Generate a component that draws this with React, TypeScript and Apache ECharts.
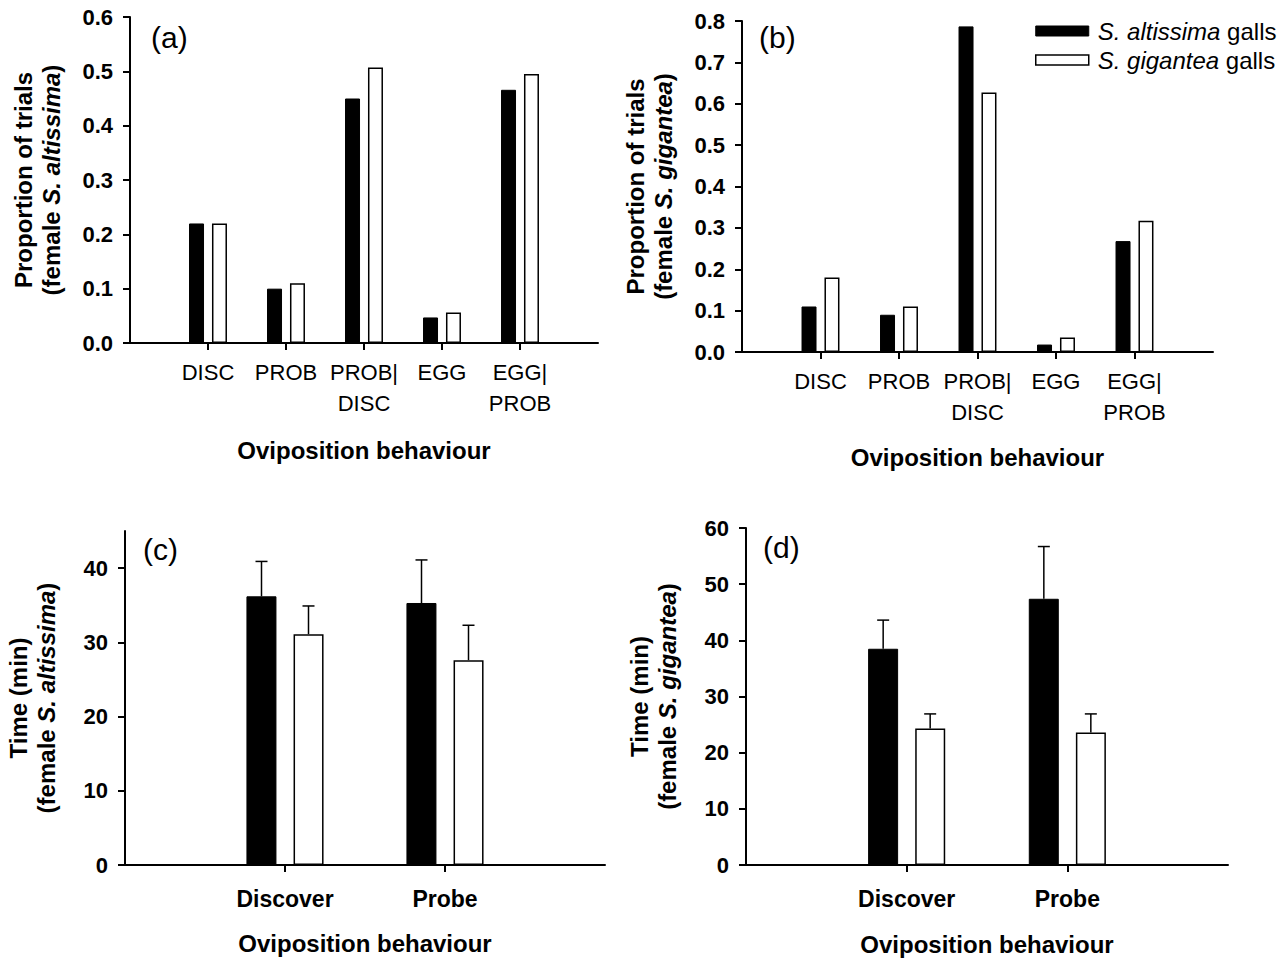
import React, { useEffect, useRef } from 'react';
import * as echarts from 'echarts';

// ---------- data ----------
const propCategories = ['DISC', 'PROB', 'PROB|\nDISC', 'EGG', 'EGG|\nPROB'];
const timeCategories = ['Discover', 'Probe'];

// (a) female S. altissima, proportion of trials
const aAltissima = [0.22, 0.10, 0.45, 0.047, 0.466];
const aGigantea = [0.22, 0.11, 0.507, 0.056, 0.495];
// (b) female S. gigantea, proportion of trials
const bAltissima = [0.11, 0.09, 0.787, 0.018, 0.268];
const bGigantea = [0.18, 0.11, 0.627, 0.035, 0.317];
// (c) female S. altissima, time (min) mean and SE
const cAltissima = [36.2, 35.3];
const cAltissimaErr = [4.7, 5.8];
const cGigantea = [31.1, 27.6];
const cGiganteaErr = [3.8, 4.7];
// (d) female S. gigantea, time (min) mean and SE
const dAltissima = [38.5, 47.4];
const dAltissimaErr = [5.1, 9.3];
const dGigantea = [24.3, 23.6];
const dGiganteaErr = [2.6, 3.3];

const cTicks = [0, 10, 20, 30, 40];

const SER1 = 'S. altissima galls';
const SER2 = 'S. gigantea galls';

const FONT = '"Liberation Sans", Arial, Helvetica, sans-serif';

const pad = (arr: any[], fill: any) => [fill, ...arr, fill];

function App() {
  const ref = useRef<HTMLDivElement>(null);

  useEffect(() => {
    if (!ref.current) return;
    const chart = echarts.init(ref.current, undefined, { renderer: 'svg' });

    const grids = [
      { left: 130, top: 17, width: 468, height: 326 },
      { left: 742, top: 21, width: 471, height: 331 },
      { left: 125, top: 531, width: 480, height: 334 },
      { left: 746, top: 528, width: 482, height: 338 },
    ];

    const axisLine = { show: true, onZero: false, lineStyle: { color: '#000', width: 2 } };
    const axisTick = { show: true, length: 7, lineStyle: { color: '#000', width: 2 } };

    const mkX = (gi: number, cats: string[], bold: boolean, labelSize: number, labelMargin: number, nameSize: number, nameGap: number) => ({
      type: 'category',
      gridIndex: gi,
      data: pad(cats, ''),
      boundaryGap: false,
      axisLine,
      axisTick: { ...axisTick, interval: (i: number) => i > 0 && i < cats.length + 1 },
      axisLabel: {
        interval: 0,
        margin: labelMargin,
        color: '#000',
        fontFamily: FONT,
        fontSize: labelSize,
        fontWeight: bold ? 'bold' : 'normal',
        lineHeight: 31,
      },
      splitLine: { show: false },
      name: 'Oviposition behaviour',
      nameLocation: 'middle',
      nameGap,
      nameTextStyle: { color: '#000', fontFamily: FONT, fontSize: nameSize, fontWeight: 'bold', lineHeight: 28 },
    });

    const yNameStyle = {
      color: '#000',
      fontFamily: FONT,
      fontSize: 24,
      fontWeight: 'bold',
      lineHeight: 28,
      rich: {
        n: { fontFamily: FONT, fontSize: 24, fontWeight: 'bold', lineHeight: 28, color: '#000' },
        i: { fontFamily: FONT, fontSize: 24, fontWeight: 'bold', fontStyle: 'italic', lineHeight: 28, color: '#000' },
      },
    };

    const mkY = (gi: number, max: number, interval: number, decimals: number, name: string, extra: any = {}) => ({
      type: 'value',
      gridIndex: gi,
      min: 0,
      max,
      interval,
      axisLine,
      axisTick: { ...axisTick, ...(extra.tickValues ? { customValues: extra.tickValues } : {}) },
      axisLabel: {
        margin: 17,
        color: '#000',
        fontFamily: FONT,
        fontSize: 22,
        fontWeight: 'bold',
        formatter: (v: number) => v.toFixed(decimals),
        ...(extra.tickValues ? { customValues: extra.tickValues } : {}),
      },
      splitLine: { show: false },
      name,
      nameLocation: 'middle',
      nameGap: 65,
      nameTextStyle: yNameStyle,
    });

    const blackStyle = { color: '#000', borderColor: '#000', borderWidth: 1 };
    const whiteStyle = { color: '#fff', borderColor: '#000', borderWidth: 1.5 };

    const bar = (gi: number, name: string, vals: number[], style: any, w: number, gap: string) => ({
      type: 'bar',
      name,
      xAxisIndex: gi,
      yAxisIndex: gi,
      data: pad(vals, '-'),
      barWidth: w,
      barGap: gap,
      itemStyle: style,
      z: 3,
    });

    const errSeries = (gi: number, means: number[], errs: number[], offset: number) => ({
      type: 'custom',
      name: 'err' + gi + '_' + offset,
      xAxisIndex: gi,
      yAxisIndex: gi,
      encode: { x: 0, y: [1, 2] },
      data: means.map((m, i) => [i + 1, m, m + errs[i]]),
      z: 2,
      renderItem: (params: any, api: any) => {
        const base = api.coord([api.value(0), api.value(1)]);
        const top = api.coord([api.value(0), api.value(2)]);
        const x = base[0] + offset;
        return {
          type: 'group',
          children: [
            { type: 'line', shape: { x1: x, y1: base[1], x2: x, y2: top[1] }, style: { stroke: '#000', lineWidth: 1.5 } },
            { type: 'line', shape: { x1: x - 6, y1: top[1], x2: x + 6, y2: top[1] }, style: { stroke: '#000', lineWidth: 1.5 } },
          ],
        };
      },
    });

    const panelLabel = (txt: string, left: number, top: number) => ({
      type: 'text',
      left,
      top,
      style: { text: txt, fill: '#000', font: `normal 30px ${FONT}` },
    });

    const option: any = {
      animation: false,
      backgroundColor: '#fff',
      grid: grids.map((g) => ({ ...g, containLabel: false })),
      xAxis: [
        mkX(0, propCategories, false, 22, 14, 24, 93),
        mkX(1, propCategories, false, 22, 14, 24, 91),
        mkX(2, timeCategories, true, 23, 18, 24, 64),
        mkX(3, timeCategories, true, 23, 18, 24, 65),
      ],
      yAxis: [
        mkY(0, 0.6, 0.1, 1, '{n|Proportion of trials}\n{n|(female }{i|S. altissima}{n|)}'),
        mkY(1, 0.8, 0.1, 1, '{n|Proportion of trials}\n{n|(female }{i|S. gigantea}{n|)}'),
        mkY(2, 45, 5, 0, '{n|Time (min)}\n{n|(female }{i|S. altissima}{n|)}', { tickValues: cTicks }),
        mkY(3, 60, 10, 0, '{n|Time (min)}\n{n|(female }{i|S. gigantea}{n|)}'),
      ],
      legend: {
        show: true,
        orient: 'vertical',
        left: 1030,
        top: 12,
        itemWidth: 53,
        itemHeight: 10,
        itemGap: 1,
        icon: 'rect',
        data: [
          { name: SER1, itemStyle: { color: '#000', borderColor: '#000', borderWidth: 1 } },
          { name: SER2, itemStyle: { color: '#fff', borderColor: '#000', borderWidth: 1.5 } },
        ],
        formatter: (name: string) => {
          const m = name.match(/^(S\. \w+) (.*)$/);
          return m ? `{i|${m[1]}}{n| ${m[2]}}` : name;
        },
        textStyle: {
          color: '#000',
          fontFamily: FONT,
          fontSize: 24,
          lineHeight: 28,
          padding: [0, 0, 0, 4],
          rich: {
            i: { fontFamily: FONT, fontSize: 24, fontStyle: 'italic', color: '#000', lineHeight: 28 },
            n: { fontFamily: FONT, fontSize: 24, color: '#000', lineHeight: 28 },
          },
        },
      },
      graphic: [
        panelLabel('(a)', 151, 22),
        panelLabel('(b)', 759, 22),
        panelLabel('(c)', 143, 534),
        panelLabel('(d)', 763, 532),
      ],
      series: [
        bar(0, SER1, aAltissima, blackStyle, 15, '53%'),
        bar(0, SER2, aGigantea, whiteStyle, 15, '53%'),
        bar(1, SER1, bAltissima, blackStyle, 15, '53%'),
        bar(1, SER2, bGigantea, whiteStyle, 15, '53%'),
        bar(2, SER1, cAltissima, blackStyle, 30, '57%'),
        bar(2, SER2, cGigantea, whiteStyle, 30, '57%'),
        bar(3, SER1, dAltissima, blackStyle, 30, '57%'),
        bar(3, SER2, dGigantea, whiteStyle, 30, '57%'),
        errSeries(2, cAltissima, cAltissimaErr, -23.5),
        errSeries(2, cGigantea, cGiganteaErr, 23.5),
        errSeries(3, dAltissima, dAltissimaErr, -23.5),
        errSeries(3, dGigantea, dGiganteaErr, 23.5),
      ],
    };

    chart.setOption(option);
    return () => chart.dispose();
  }, []);

  return (
    <div
      ref={ref}
      style={{ position: 'fixed', left: 0, top: 0, width: 1283, height: 959, background: '#fff' }}
    />
  );
}

export default App;
